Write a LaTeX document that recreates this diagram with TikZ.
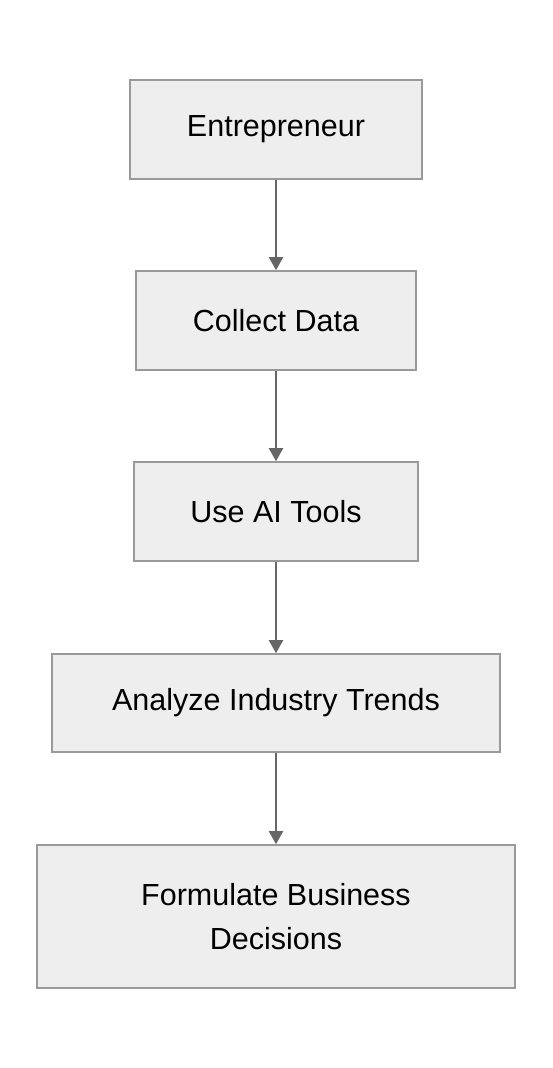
\documentclass[tikz,border=0pt]{standalone}
\usepackage{fontspec}
\setmainfont{Liberation Sans}
\usetikzlibrary{arrows.meta}
\definecolor{boxfill}{HTML}{EEEEEE}
\definecolor{boxline}{HTML}{999999}
\definecolor{arrowcol}{HTML}{666666}
\begin{document}
\begin{tikzpicture}[x=1pt,y=-1pt,
  flowbox/.style={draw=boxline,fill=boxfill,line width=1.6pt,rectangle,inner sep=0pt,
    align=center,font=\fontsize{30.5}{44}\selectfont,text=black},
  flowarrow/.style={draw=arrowcol,line width=2pt,-{Triangle[length=13pt,width=14pt]}}]
\useasboundingbox[fill=white] (0,0) rectangle (552,1068);
\node[flowbox,minimum width=292pt,minimum height=99pt] (n1) at (276,129.5) {Entrepreneur};
\node[flowbox,minimum width=280pt,minimum height=99pt] (n2) at (276,320.5) {Collect Data};
\node[flowbox,minimum width=284pt,minimum height=99pt] (n3) at (276,511.5) {Use AI Tools};
\node[flowbox,minimum width=448pt,minimum height=98pt] (n4) at (276,703) {Analyze Industry Trends};
\node[flowbox,minimum width=478pt,minimum height=143pt] (n5) at (276,916.5) {Formulate Business\\Decisions};
\draw[flowarrow] (n1.south) -- (n2.north);
\draw[flowarrow] (n2.south) -- (n3.north);
\draw[flowarrow] (n3.south) -- (n4.north);
\draw[flowarrow] (n4.south) -- (n5.north);
\end{tikzpicture}
\end{document}
